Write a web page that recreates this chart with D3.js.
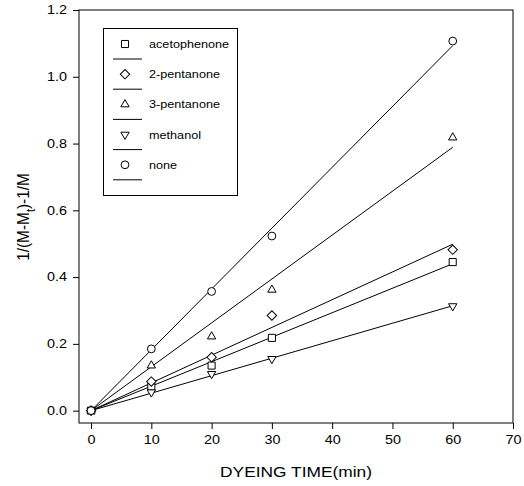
<!DOCTYPE html>
<html>
<head>
<meta charset="utf-8">
<script src="https://cdn.jsdelivr.net/npm/d3@7"></script>
<style>
  body { margin: 0; background: #fff; }
  text { font-family: "Liberation Sans", Arial, sans-serif; fill: #000; }
</style>
</head>
<body>
<div id="chart"></div>
<script>
// dyeing time (min)
const times = [0, 10, 20, 30, 60];
const seriesNames = ["acetophenone", "2-pentanone", "3-pentanone", "methanol", "none"];
const acetophenone = [0, 0.072, 0.135, 0.218, 0.445];
const pentanone2 = [0, 0.087, 0.160, 0.285, 0.482];
const pentanone3 = [0, 0.135, 0.222, 0.362, 0.818];
const methanol = [0, 0.055, 0.110, 0.155, 0.313];
const none = [0, 0.185, 0.357, 0.523, 1.107];
const xTicks = [0, 10, 20, 30, 40, 50, 60, 70];
const yTicks = [0, 0.2, 0.4, 0.6, 0.8, 1.0, 1.2];

const seriesValues = [acetophenone, pentanone2, pentanone3, methanol, none];
// marker: symbol type, size, rotation
const markers = [
  { type: d3.symbolSquare, size: 50, rot: 0 },
  { type: d3.symbolSquare, size: 44, rot: 45 },
  { type: d3.symbolTriangle, size: 30, rot: 0 },
  { type: d3.symbolTriangle, size: 30, rot: 180 },
  { type: d3.symbolCircle, size: 48, rot: 0 }
];

const width = 524, height = 486;
const plotL = 79, plotR = 513, plotT = 10, plotB = 423;
const sx = 1.2; // text is slightly wide in the original

const svg = d3.select("#chart").append("svg")
  .attr("width", width).attr("height", height);

const x = d3.scaleLinear().domain([-2, 70]).range([plotL, plotR]);
const y = d3.scaleLinear().domain([-0.037, 1.2]).range([plotB, plotT]);

// frame
svg.append("rect")
  .attr("x", plotL).attr("y", plotT)
  .attr("width", plotR - plotL).attr("height", plotB - plotT)
  .attr("fill", "none").attr("stroke", "#000").attr("stroke-width", 1);

const xAxis = svg.append("g")
  .attr("transform", `translate(0,${plotB})`)
  .call(d3.axisBottom(x).tickValues(xTicks).tickSize(6).tickPadding(6).tickFormat(d3.format("d")));
const yAxis = svg.append("g")
  .attr("transform", `translate(${plotL},0)`)
  .call(d3.axisLeft(y).tickValues(yTicks).tickSize(6).tickPadding(6).tickFormat(d3.format(".1f")));
[xAxis, yAxis].forEach(a => {
  a.select(".domain").remove();
  a.selectAll("text")
    .attr("font-size", 12)
    .attr("font-family", "Liberation Sans, Arial, sans-serif")
    .attr("x", function() { return (+d3.select(this).attr("x") || 0) / sx; })
    .attr("transform", `scale(${sx},1)`);
});

// axis titles
svg.append("text")
  .attr("transform", `translate(296,477) scale(1.24,1)`)
  .attr("text-anchor", "middle").attr("font-size", 14)
  .text("DYEING TIME(min)");

const yt = svg.append("text")
  .attr("transform", `translate(29,217) rotate(-90) scale(1.1,1.2)`)
  .attr("text-anchor", "middle").attr("font-size", 14);
yt.append("tspan").text("1/(M-M");
yt.append("tspan").attr("baseline-shift", "sub").attr("font-size", 10).text("t");
yt.append("tspan").text(")-1/M");

const symPath = m => d3.symbol().type(m.type).size(m.size)();

// regression lines through origin
seriesValues.forEach(vals => {
  const sxy = d3.sum(times, (t, j) => t * vals[j]);
  const sxx = d3.sum(times, t => t * t);
  const slope = sxy / sxx;
  svg.append("line")
    .attr("x1", x(0)).attr("y1", y(0))
    .attr("x2", x(60)).attr("y2", y(slope * 60))
    .attr("stroke", "#000").attr("stroke-width", 1);
});

seriesValues.forEach((vals, i) => {
  const m = markers[i];
  svg.append("g").selectAll("path")
    .data(times.map((t, j) => [t, vals[j]]))
    .join("path")
    .attr("d", symPath(m))
    .attr("transform", d => `translate(${x(d[0])},${y(d[1])}) rotate(${m.rot})`)
    .attr("fill", "#fff").attr("stroke", "#000").attr("stroke-width", 1);
});

// legend
const lg = svg.append("g");
lg.append("rect")
  .attr("x", 103.5).attr("y", 28.5).attr("width", 134).attr("height", 167)
  .attr("fill", "#fff").attr("stroke", "#000").attr("stroke-width", 1);
seriesNames.forEach((name, i) => {
  const cy = 44 + i * 30.2;
  const m = markers[i];
  lg.append("path")
    .attr("d", symPath(m))
    .attr("transform", `translate(125,${cy}) rotate(${m.rot})`)
    .attr("fill", "#fff").attr("stroke", "#000");
  lg.append("text")
    .attr("transform", `translate(149,${cy + 4}) scale(1.15,1)`)
    .attr("font-size", 11).text(name);
  lg.append("line")
    .attr("x1", 113).attr("x2", 142)
    .attr("y1", cy + 15).attr("y2", cy + 15)
    .attr("stroke", "#000");
});
</script>
</body>
</html>
